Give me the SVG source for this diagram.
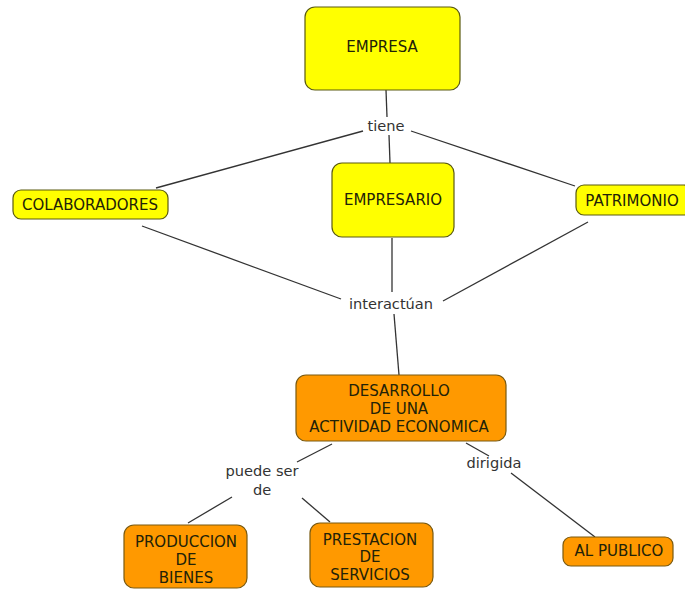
<svg xmlns="http://www.w3.org/2000/svg" width="685" height="590" viewBox="0 0 685 590">
<style>
.y{fill:#ffff00;stroke:#5a5a10;stroke-width:1.2}
.o{fill:#ff9900;stroke:#7a5a10;stroke-width:1.2}
.t{font-family:"DejaVu Sans",Verdana,sans-serif;font-size:15px;fill:#222208;text-anchor:middle}
.l{font-family:"DejaVu Sans",Verdana,sans-serif;font-size:14.6px;fill:#333;text-anchor:middle}
.c{stroke:#333;stroke-width:1.3;fill:none}
</style>
<rect width="685" height="590" fill="#fff"/>
<g id="connectors">
<line class="c" x1="386" y1="90" x2="387" y2="117"/>
<line class="c" x1="363" y1="131" x2="156" y2="188"/>
<line class="c" x1="389" y1="135" x2="390" y2="163"/>
<line class="c" x1="411" y1="131" x2="575" y2="186"/>
<line class="c" x1="142" y1="226" x2="341" y2="299"/>
<line class="c" x1="392" y1="238" x2="392" y2="292"/>
<line class="c" x1="588" y1="222" x2="443" y2="301"/>
<line class="c" x1="394" y1="314" x2="399" y2="375"/>
<line class="c" x1="332" y1="444" x2="297" y2="462"/>
<line class="c" x1="232" y1="497" x2="188" y2="523"/>
<line class="c" x1="302" y1="498" x2="330" y2="522"/>
<line class="c" x1="466" y1="443" x2="489" y2="456"/>
<line class="c" x1="511" y1="473" x2="595" y2="537"/>
</g>
<g id="labels">
<text class="l" x="386" y="131">tiene</text>
<text class="l" x="391" y="309">interactúan</text>
<text class="l" x="262" y="476">puede ser</text>
<text class="l" x="262" y="495">de</text>
<text class="l" x="494" y="468">dirigida</text>
</g>
<g id="empresa"><rect class="y" x="305" y="7" width="155" height="83" rx="10"/><text class="t" x="382" y="52">EMPRESA</text></g>
<g id="colaboradores"><rect class="y" x="13" y="190" width="155" height="29" rx="8"/><text class="t" x="90" y="210">COLABORADORES</text></g>
<g id="empresario"><rect class="y" x="332" y="163" width="122" height="74" rx="10"/><text class="t" x="393" y="205">EMPRESARIO</text></g>
<g id="patrimonio"><rect class="y" x="576" y="185" width="116" height="30" rx="8"/><text class="t" x="632" y="206">PATRIMONIO</text></g>
<g id="desarrollo"><rect class="o" x="296" y="375" width="210" height="66" rx="10"/>
<text class="t" x="399" y="396">DESARROLLO</text><text class="t" x="399" y="414">DE UNA</text><text class="t" x="399" y="432">ACTIVIDAD ECONOMICA</text></g>
<g id="produccion"><rect class="o" x="124" y="525" width="123" height="63" rx="10"/>
<text class="t" x="186" y="547">PRODUCCION</text><text class="t" x="186" y="565">DE</text><text class="t" x="186" y="583">BIENES</text></g>
<g id="prestacion"><rect class="o" x="310" y="523" width="123" height="64" rx="10"/>
<text class="t" x="370" y="545">PRESTACION</text><text class="t" x="370" y="562">DE</text><text class="t" x="370" y="580">SERVICIOS</text></g>
<g id="alpublico"><rect class="o" x="563" y="537" width="110" height="29" rx="8"/><text class="t" x="619" y="556">AL PUBLICO</text></g>
</svg>
